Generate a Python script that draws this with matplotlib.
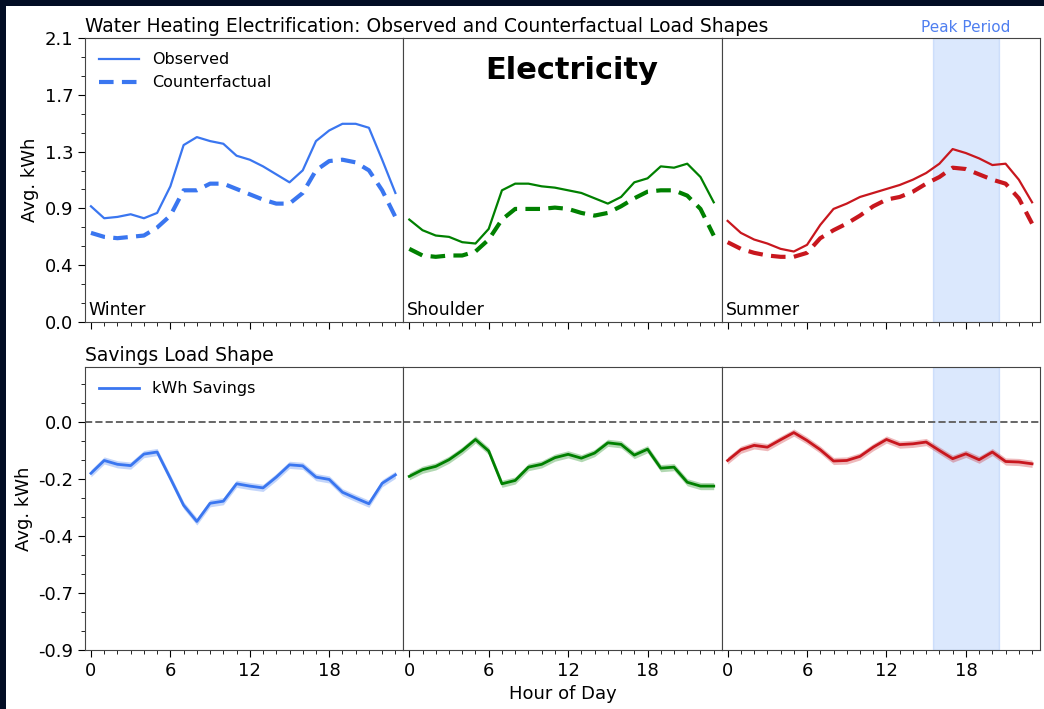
import numpy as np
import matplotlib.pyplot as plt
from matplotlib.ticker import AutoMinorLocator, FormatStrFormatter, MultipleLocator
from matplotlib.patches import Rectangle

# hours of the day
hours = np.arange(24)
seasons = ['Winter', 'Shoulder', 'Summer']
colors = ['#3a76f0', 'green', '#c8171e']

# average kWh per hour
winter_obs = [0.87, 0.78, 0.79, 0.81, 0.78, 0.82, 1.02, 1.33, 1.39, 1.36, 1.34, 1.25,
              1.22, 1.17, 1.11, 1.05, 1.14, 1.36, 1.44, 1.49, 1.49, 1.46, 1.22, 0.97]
winter_cf = [0.67, 0.64, 0.63, 0.64, 0.65, 0.71, 0.80, 0.99, 0.99, 1.04, 1.04, 1.00,
             0.96, 0.92, 0.89, 0.89, 0.97, 1.14, 1.21, 1.22, 1.20, 1.14, 0.99, 0.79]
shoulder_obs = [0.77, 0.69, 0.65, 0.64, 0.60, 0.59, 0.70, 0.99, 1.04, 1.04, 1.02, 1.01,
                0.99, 0.97, 0.93, 0.89, 0.94, 1.05, 1.08, 1.17, 1.16, 1.19, 1.09, 0.90]
shoulder_cf = [0.55, 0.50, 0.49, 0.50, 0.50, 0.53, 0.62, 0.77, 0.85, 0.85, 0.85, 0.86,
               0.85, 0.82, 0.80, 0.82, 0.87, 0.93, 0.98, 0.99, 0.99, 0.95, 0.85, 0.65]
summer_obs = [0.76, 0.67, 0.62, 0.59, 0.55, 0.53, 0.58, 0.73, 0.85, 0.89, 0.94, 0.97,
              1.00, 1.03, 1.07, 1.12, 1.19, 1.30, 1.27, 1.23, 1.18, 1.19, 1.07, 0.90]
summer_cf = [0.60, 0.55, 0.52, 0.50, 0.49, 0.49, 0.52, 0.63, 0.69, 0.74, 0.80, 0.87,
             0.92, 0.94, 0.98, 1.04, 1.09, 1.16, 1.15, 1.11, 1.07, 1.04, 0.93, 0.74]

winter_sav = [-0.20, -0.15, -0.165, -0.17, -0.125, -0.117, -0.22, -0.325, -0.388, -0.317, -0.309, -0.241,
              -0.25, -0.257, -0.215, -0.167, -0.171, -0.215, -0.224, -0.274, -0.297, -0.319, -0.239, -0.206]
shoulder_sav = [-0.212, -0.186, -0.173, -0.147, -0.111, -0.068, -0.113, -0.241, -0.228, -0.176, -0.165, -0.139,
                -0.126, -0.141, -0.121, -0.081, -0.087, -0.129, -0.106, -0.18, -0.176, -0.235, -0.25, -0.25]
summer_sav = [-0.15, -0.108, -0.091, -0.098, -0.069, -0.041, -0.072, -0.108, -0.152, -0.15, -0.134, -0.098,
              -0.068, -0.088, -0.085, -0.078, -0.111, -0.143, -0.124, -0.147, -0.117, -0.154, -0.156, -0.163]
sav_ci = 0.014  # half width of the shaded band

observed = [winter_obs, shoulder_obs, summer_obs]
counterfactual = [winter_cf, shoulder_cf, summer_cf]
savings = [winter_sav, shoulder_sav, summer_sav]

peak_start, peak_end = 15.5, 20.5

fig = plt.figure(figsize=(10.44, 7.09), dpi=100)
fig.patch.set_facecolor('#020d24')
fig.patches.append(Rectangle((6 / 1044, 0), 1, 1 - 6 / 709, transform=fig.transFigure,
                             facecolor='white', edgecolor='none', zorder=-1))

left, right = 85 / 1044, 1040 / 1044
w = (right - left) / 3
top_ax = [fig.add_axes([left + i * w, 1 - 322 / 709, w, (322 - 38) / 709]) for i in range(3)]
bot_ax = [fig.add_axes([left + i * w, 1 - 650 / 709, w, (650 - 367) / 709]) for i in range(3)]

top_lim = (0, 2.135)
bot_lim = (-0.89, 0.215)

for i in range(3):
    ax = top_ax[i]
    ax.plot(hours, observed[i], color=colors[i], lw=1.6, label='Observed')
    ax.plot(hours, counterfactual[i], color=colors[i], lw=3, ls=(0, (3.5, 2)), label='Counterfactual')
    ax.set_ylim(*top_lim)
    ax.text(0.012, 0.012, seasons[i], transform=ax.transAxes, fontsize=12.5, ha='left', va='bottom')

    bx = bot_ax[i]
    sv = np.array(savings[i])
    bx.plot(hours, sv, color=colors[i], lw=2, label='kWh Savings')
    bx.fill_between(hours, sv - sav_ci, sv + sav_ci, color=colors[i], alpha=0.3, lw=0)
    bx.axhline(0, color='#666666', ls='--', lw=1.4)
    bx.set_ylim(*bot_lim)

    for a, lim in ((ax, top_lim), (bx, bot_lim)):
        a.set_xlim(-0.45, 23.6)
        a.xaxis.set_major_locator(MultipleLocator(6))
        a.xaxis.set_minor_locator(MultipleLocator(1))
        a.tick_params(labelsize=13, length=5, which='major')
        a.tick_params(length=3, which='minor')
        for s in a.spines.values():
            s.set_color('#444444')
        if i == 0:
            a.set_yticks(np.linspace(lim[0], lim[1], 6) if a is ax else np.linspace(lim[0], 0, 5))
            a.yaxis.set_major_formatter(FormatStrFormatter('%.1f'))
            a.yaxis.set_minor_locator(AutoMinorLocator(3))
            a.set_ylabel('Avg. kWh', fontsize=13)
        else:
            a.set_yticks([])
            a.tick_params(axis='y', which='both', left=False)
    ax.tick_params(axis='x', labelbottom=False)

# peak period shading on summer
for a in (top_ax[2], bot_ax[2]):
    a.axvspan(peak_start, peak_end, color='#4f8ef5', alpha=0.2, zorder=0)
top_ax[2].text((peak_start + peak_end) / 2, 1.01, 'Peak Period', transform=top_ax[2].get_xaxis_transform(),
               color='#4f7ff0', fontsize=11, ha='center', va='bottom')

top_ax[0].legend(loc='upper left', frameon=False, fontsize=11.5, handlelength=2.5)
bot_ax[0].legend(loc='upper left', frameon=False, fontsize=11.5, handlelength=2.5)

top_ax[0].set_title('Water Heating Electrification: Observed and Counterfactual Load Shapes',
                    loc='left', fontsize=13.5, pad=4)
bot_ax[0].set_title('Savings Load Shape', loc='left', fontsize=13.5, pad=4)
top_ax[1].text(0.53, 0.885, 'Electricity', transform=top_ax[1].transAxes, fontsize=22,
               fontweight='bold', family='DejaVu Sans', ha='center', va='center')
bot_ax[1].set_xlabel('Hour of Day', fontsize=13)

fig.savefig('out.png', dpi=100, facecolor=fig.get_facecolor())
